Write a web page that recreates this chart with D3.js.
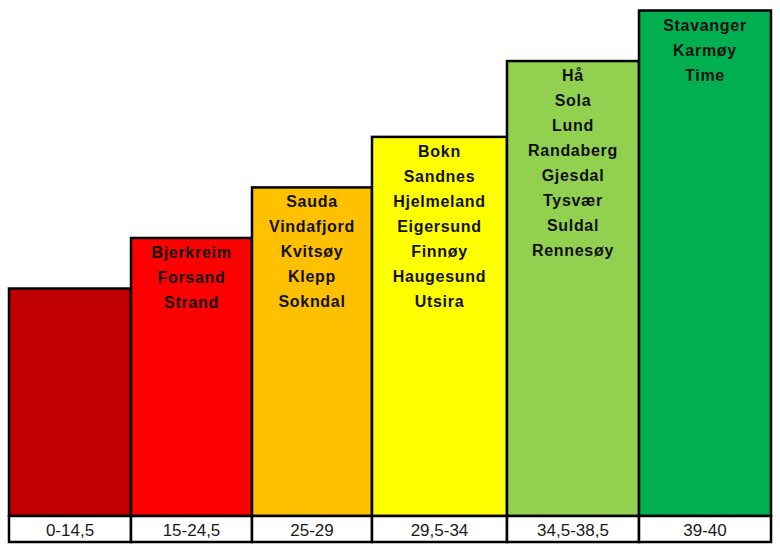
<!DOCTYPE html>
<head>
<meta charset="utf-8">
<style>
body { margin: 0; background: #fff; }
svg { display: block; }
.bar { stroke: #000; stroke-width: 2.5px; }
.cell { fill: #fff; stroke: #000; stroke-width: 2.5px; }
.names text {
  font: bold 16px "Liberation Sans", Arial, sans-serif;
  letter-spacing: 0.7px;
  fill: #111;
  text-anchor: middle;
}
.cat {
  font: 17px "Liberation Sans", Arial, sans-serif;
  fill: #1a1a1a;
  text-anchor: middle;
}
</style>
</head>
<body>
<script src="https://d3js.org/d3.v7.min.js"></script>
<script>
// score ranges along the bottom
var categories = ["0-14,5", "15-24,5", "25-29", "29,5-34", "34,5-38,5", "39-40"];
// step height of each column
var levels = [4.5, 5.5, 6.5, 7.5, 9, 10];
// municipalities listed inside each column
var names = [
  [],
  ["Bjerkreim", "Forsand", "Strand"],
  ["Sauda", "Vindafjord", "Kvitsøy", "Klepp", "Sokndal"],
  ["Bokn", "Sandnes", "Hjelmeland", "Eigersund", "Finnøy", "Haugesund", "Utsira"],
  ["Hå", "Sola", "Lund", "Randaberg", "Gjesdal", "Tysvær", "Suldal", "Rennesøy"],
  ["Stavanger", "Karmøy", "Time"]
];

// layout / style
var colors = ["#C00000", "#FF0000", "#FFC000", "#FFFF00", "#92D050", "#00B050"];
var colWidths = [122, 121, 120, 135, 132, 132];   // relative column widths
var W = 780, H = 552;
var left = 9, right = 771,
    baseY = 516,   // bottom of the bars
    topY = 10.5,   // top of tallest bar
    rowH = 26,     // label row height
    lineH = 25;

var svg = d3.select("body").append("svg")
    .attr("width", W)
    .attr("height", H);

// cumulative column edges
var edges = [0];
colWidths.forEach(function(w, i) { edges.push(edges[i] + w); });

var x = d3.scaleLinear().domain([0, edges[edges.length - 1]]).range([left, right]);
var y = d3.scaleLinear().domain([0, d3.max(levels)]).range([baseY, topY]);

var cols = categories.map(function(c, i) {
  return { cat: c, level: levels[i], names: names[i], x0: x(edges[i]), x1: x(edges[i + 1]), color: colors[i] };
});

// bars
svg.selectAll("rect.bar")
  .data(cols)
  .enter().append("rect")
    .classed("bar", true)
    .attr("x", function(d) { return d.x0; })
    .attr("y", function(d) { return y(d.level); })
    .attr("width", function(d) { return d.x1 - d.x0; })
    .attr("height", function(d) { return baseY - y(d.level); })
    .style("fill", function(d) { return d.color; });

// names inside bars
var g = svg.selectAll("g.names")
  .data(cols)
  .enter().append("g")
    .classed("names", true)
    .attr("transform", function(d) {
      return "translate(" + (d.x0 + d.x1) / 2 + "," + (y(d.level) + 20) + ")";
    });

g.selectAll("text")
  .data(function(d) { return d.names; })
  .enter().append("text")
    .attr("y", function(d, i) { return i * lineH; })
    .text(function(d) { return d; });

// label row
svg.selectAll("rect.cell")
  .data(cols)
  .enter().append("rect")
    .classed("cell", true)
    .attr("x", function(d) { return d.x0; })
    .attr("y", baseY)
    .attr("width", function(d) { return d.x1 - d.x0; })
    .attr("height", rowH);

svg.selectAll("text.cat")
  .data(cols)
  .enter().append("text")
    .classed("cat", true)
    .attr("x", function(d) { return (d.x0 + d.x1) / 2; })
    .attr("y", baseY + 20)
    .text(function(d) { return d.cat; });
</script>
</body>
